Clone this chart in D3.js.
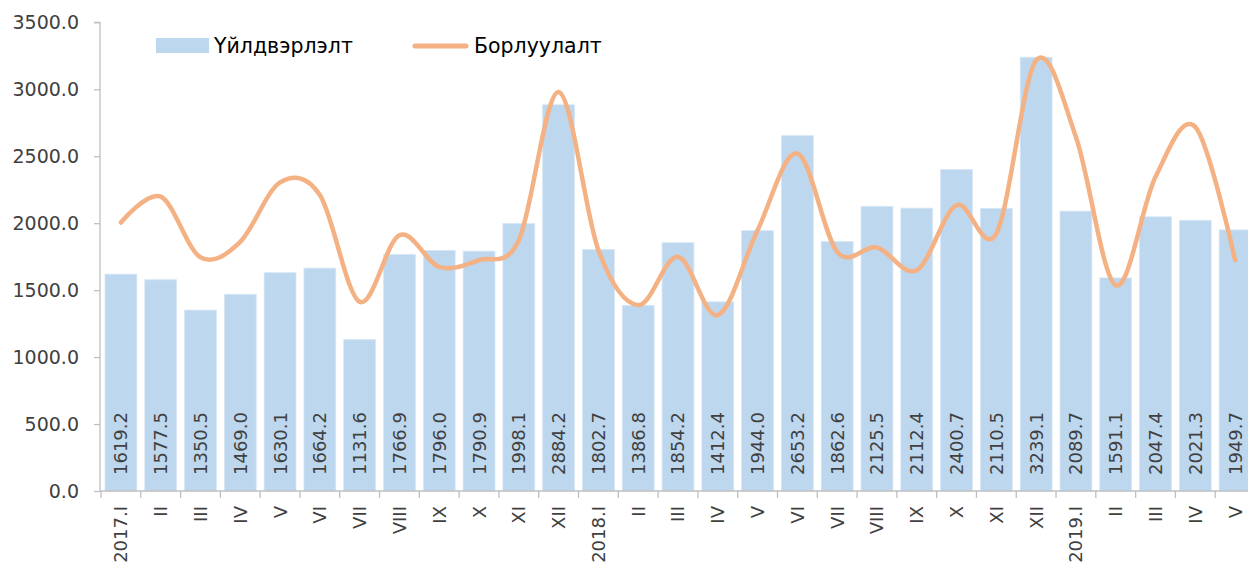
<!DOCTYPE html>
<html>
<head>
<meta charset="utf-8">
<script src="https://cdn.jsdelivr.net/npm/d3@7"></script>
<style>
html,body{margin:0;padding:0;background:#fff;overflow:hidden;}
svg{display:block;font-family:"DejaVu Sans",sans-serif;}
</style>
</head>
<body>
<svg id="chart" width="1248" height="565"></svg>
<script>
const categories = ["2017.I","II","III","IV","V","VI","VII","VIII","IX","X","XI","XII",
  "2018.I","II","III","IV","V","VI","VII","VIII","IX","X","XI","XII",
  "2019.I","II","III","IV","V"];
const production = [1619.2,1577.5,1350.5,1469.0,1630.1,1664.2,1131.6,1766.9,1796.0,1790.9,1998.1,2884.2,
  1802.7,1386.8,1854.2,1412.4,1944.0,2653.2,1862.6,2125.5,2112.4,2400.7,2110.5,3239.1,
  2089.7,1591.1,2047.4,2021.3,1949.7];
const sales = [2005,2198,1745,1861,2305,2210,1413,1910,1674,1724,1873,2980,
  1798,1388,1749,1313,1948,2520,1786,1818,1649,2134,1923,3216,
  2644,1537,2346,2719,1724];
const yTicks = [0,500,1000,1500,2000,2500,3000,3500];
const seriesNames = ["Үйлдвэрлэлт","Борлуулалт"];

const svg = d3.select("#chart");
const pLeft = 100, pRight = 1255, pTop = 22.3, pBottom = 491;
const x = d3.scaleBand().domain(d3.range(categories.length)).range([101, pRight]).paddingInner(0.2).paddingOuter(0.1);
const y = d3.scaleLinear().domain([0,3500]).range([pBottom, pTop]);

// bars
svg.append("g").selectAll("rect").data(production).join("rect")
  .attr("x",(d,i)=>x(i)).attr("y",d=>y(d))
  .attr("width",x.bandwidth()).attr("height",d=>pBottom-y(d))
  .attr("fill","#BDD7EE").attr("stroke","#D6E6F5").attr("stroke-width",0.8);

// value labels
svg.append("g").selectAll("text").data(production).join("text")
  .attr("transform",(d,i)=>`translate(${x(i)+x.bandwidth()/2},475) rotate(-90)`)
  .attr("dy","0.36em").attr("text-anchor","start")
  .attr("font-size",18).attr("fill","#404040")
  .text(d=>d.toFixed(1));

// line
const line = d3.line().x((d,i)=>x(i)+x.bandwidth()/2).y(d=>y(d)).curve(d3.curveCardinal.tension(0));
svg.append("path").datum(sales).attr("d",line)
  .attr("fill","none").attr("stroke","#F4B183").attr("stroke-width",4.5)
  .attr("stroke-linecap","round").attr("stroke-linejoin","round");

// y axis
const yAxis = d3.axisLeft(y).tickValues(yTicks).tickFormat(d=>d.toFixed(1)).tickSize(6).tickPadding(15);
const gy = svg.append("g").attr("transform",`translate(${pLeft},0)`).call(yAxis);
gy.select(".domain").attr("stroke","#BFBFBF").attr("stroke-width",1.3).attr("d",`M-6,${pTop}H0V${pBottom}`);
gy.selectAll(".tick line").attr("stroke","#BFBFBF").attr("stroke-width",1.3);
gy.selectAll(".tick text").attr("font-size",19).attr("fill","#404040").attr("font-family","DejaVu Sans");

// x axis
const xb = d3.scaleLinear().domain([0,categories.length]).range([101,pRight]);
const gx = svg.append("g");
gx.append("line").attr("x1",pLeft).attr("x2",1248).attr("y1",pBottom).attr("y2",pBottom)
  .attr("stroke","#BFBFBF").attr("stroke-width",1.3);
gx.selectAll("line.tk").data(d3.range(categories.length+1)).join("line").attr("class","tk")
  .attr("x1",d=>xb(d)).attr("x2",d=>xb(d)).attr("y1",pBottom).attr("y2",pBottom+7)
  .attr("stroke","#BFBFBF").attr("stroke-width",1.3);
gx.selectAll("text").data(categories).join("text")
  .attr("transform",(d,i)=>`translate(${x(i)+x.bandwidth()/2},506) rotate(-90)`)
  .attr("dy","0.36em").attr("text-anchor","end")
  .attr("font-size",18).attr("fill","#404040")
  .text(d=>d);

// legend
const lg = svg.append("g");
lg.append("rect").attr("x",156).attr("y",38).attr("width",53).attr("height",15).attr("fill","#BDD7EE");
lg.append("text").attr("x",214).attr("y",53).attr("font-size",20.5).attr("fill","#000").text(seriesNames[0]);
lg.append("line").attr("x1",415).attr("x2",466).attr("y1",46).attr("y2",46)
  .attr("stroke","#F4B183").attr("stroke-width",5).attr("stroke-linecap","round");
lg.append("text").attr("x",474).attr("y",53).attr("font-size",20.5).attr("fill","#000").text(seriesNames[1]);
</script>
</body>
</html>
